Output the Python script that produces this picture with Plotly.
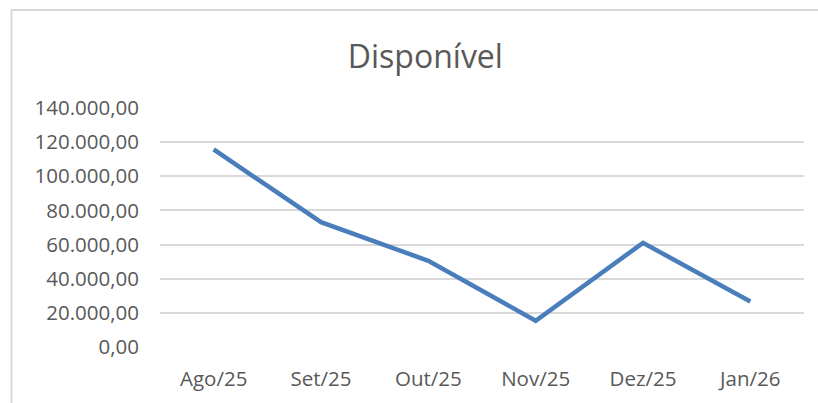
import plotly.graph_objects as go

categories = ["Ago/25", "Set/25", "Out/25", "Nov/25", "Dez/25", "Jan/26"]
values = [115700, 73100, 50500, 15400, 61000, 26700]
tick_vals = [0, 20000, 40000, 60000, 80000, 100000, 120000, 140000]
tick_text = ["0,00", "20.000,00", "40.000,00", "60.000,00", "80.000,00",
             "100.000,00", "120.000,00", "140.000,00"]

TEXT = "#595959"
GRID = "#d9d9d9"
FONT = "Open Sans"

fig = go.Figure()
fig.add_trace(go.Scatter(
    x=categories, y=values, mode="lines",
    line=dict(color="#4a7ebb", width=4.5),
    hoverinfo="skip", showlegend=False,
))

fig.update_layout(
    width=818, height=403,
    margin=dict(l=160, r=14, t=108, b=56, autoexpand=False),
    paper_bgcolor="white", plot_bgcolor="white",
    font=dict(family=FONT, color=TEXT, size=20.5),
    title=dict(text="Disponível", x=0.52, xanchor="center",
               y=0.86, yanchor="middle",
               font=dict(family=FONT, size=32, color=TEXT)),
    xaxis=dict(type="category", range=[-0.5, 5.5], showgrid=False,
               zeroline=False, automargin=False,
               showline=False, ticks="", tickfont=dict(size=20.5, color=TEXT),
               ticklabelstandoff=17),
    yaxis=dict(range=[0, 140000], tickvals=tick_vals, ticktext=tick_text,
               showgrid=True, gridcolor=GRID, gridwidth=1.5, automargin=False,
               zeroline=False, showline=False, ticks="",
               tickfont=dict(size=20.5, color=TEXT), ticklabelstandoff=20),
    shapes=[dict(type="rect", xref="paper", yref="paper",
                 x0=(11.5 - 160) / 644, x1=1.2,
                 y0=-0.5, y1=(347 - 10) / 239,
                 line=dict(color=GRID, width=2), fillcolor="rgba(0,0,0,0)",
                 layer="below")],
)

fig.write_html("out.html", config={"displayModeBar": False},
               post_script="document.body.style.margin='0';")
